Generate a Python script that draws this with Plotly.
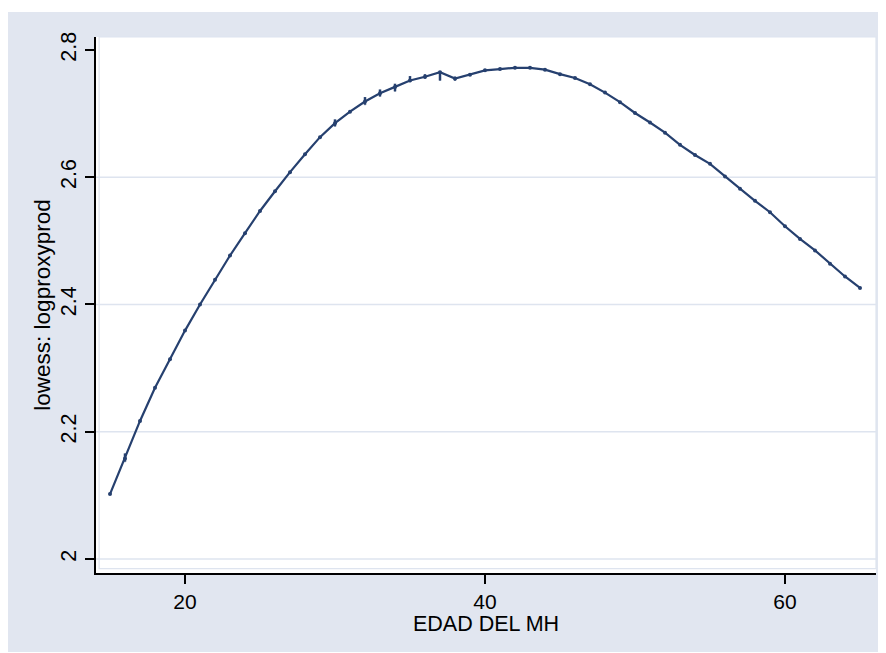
import plotly.graph_objects as go

# Data (age -> lowess smoothed log proxy productivity)
edad = list(range(15, 66))
lowess = [2.102, 2.158, 2.217, 2.269, 2.314, 2.359, 2.400, 2.439, 2.477, 2.512,
          2.547, 2.578, 2.608, 2.636, 2.663, 2.685, 2.703, 2.719, 2.732, 2.742,
          2.752, 2.758, 2.765, 2.755, 2.761, 2.768, 2.770, 2.772, 2.772, 2.769,
          2.762, 2.756, 2.746, 2.733, 2.718, 2.701, 2.686, 2.670, 2.651, 2.635,
          2.621, 2.601, 2.582, 2.563, 2.545, 2.523, 2.503, 2.485, 2.464, 2.444,
          2.426]

# ages where several tied observations give a small vertical spread
spread_edad = [16, 30, 32, 33, 34, 35, 36, 37, 38]
spread_lo = [2.153, 2.680, 2.714, 2.727, 2.735, 2.750, 2.755, 2.752, 2.752]
spread_hi = [2.166, 2.691, 2.726, 2.738, 2.747, 2.759, 2.762, 2.765, 2.758]

x_ticks = [20, 40, 60]
y_ticks = [2.0, 2.2, 2.4, 2.6, 2.8]
y_ticktext = ["2", "2.2", "2.4", "2.6", "2.8"]
grid_vals = [2.0, 2.2, 2.4, 2.6]

LINE = "#26406F"
BG = "#E1E6F0"
GRID = "#DEE4EF"
FONT = "Liberation Sans, Arial, sans-serif"

fig = go.Figure()
fig.add_trace(go.Scatter(
    x=edad, y=lowess, mode="lines+markers",
    line=dict(color=LINE, width=2.2),
    marker=dict(color=LINE, size=4),
    showlegend=False, hoverinfo="x+y",
))
fig.add_trace(go.Scatter(
    x=spread_edad, y=spread_lo, mode="markers",
    marker=dict(color=LINE, size=1),
    error_y=dict(type="data", symmetric=False,
                 array=[h - l for h, l in zip(spread_hi, spread_lo)],
                 arrayminus=[0] * len(spread_lo),
                 color=LINE, thickness=2.5, width=0),
    showlegend=False, hoverinfo="skip",
))

shapes = []
for g in grid_vals:
    shapes.append(dict(type="line", xref="x domain", yref="y", x0=0, x1=1, y0=g, y1=g,
                       line=dict(color=GRID, width=1.5), layer="below"))
# plot region outline
shapes.append(dict(type="rect", xref="x domain", yref="y domain", x0=0.004, x1=1.0,
                   y0=0.008, y1=1.0, line=dict(color=GRID, width=1.2), layer="below"))
# white outer margins of the image (top and bottom rows)
shapes.append(dict(type="rect", xref="paper", yref="paper", x0=-0.2, x1=1.2,
                   y0=(565 - 4) / 536, y1=1.2, line=dict(width=0), fillcolor="white",
                   layer="above"))
shapes.append(dict(type="rect", xref="paper", yref="paper", x0=-0.2, x1=1.2,
                   y0=-0.2, y1=(565 - 644) / 536, line=dict(width=0), fillcolor="white",
                   layer="above"))

fig.update_layout(
    width=878, height=645,
    margin=dict(l=88, r=10, t=29, b=80, pad=0, autoexpand=False),
    paper_bgcolor=BG, plot_bgcolor="white",
    font=dict(family=FONT, size=21, color="black"),
    shapes=shapes,
    xaxis=dict(
        range=[14.067, 66.067], tickvals=x_ticks, ticks="outside", ticklen=9,
        tickwidth=1.5, tickcolor="black", showline=True, linecolor="black", linewidth=2,
        showgrid=False, zeroline=False, tickfont=dict(size=21), automargin=False,
    ),
    yaxis=dict(
        range=[1.978, 2.8204], tickvals=y_ticks, ticktext=y_ticktext, tickangle=-90,
        ticks="outside", ticklen=9, tickwidth=1.5, tickcolor="black",
        showline=True, linecolor="black", linewidth=2, showgrid=False, zeroline=False,
        tickfont=dict(size=21.5), automargin=False,
        title=dict(text="lowess: logproxyprod", font=dict(size=22.5), standoff=1),
    ),
    annotations=[dict(text="EDAD DEL MH", xref="paper", yref="paper", x=0.5,
                      y=(565 - 616) / 536, xanchor="center", yanchor="middle",
                      showarrow=False, font=dict(size=21.5))],
)

fig.write_html("out.html")
